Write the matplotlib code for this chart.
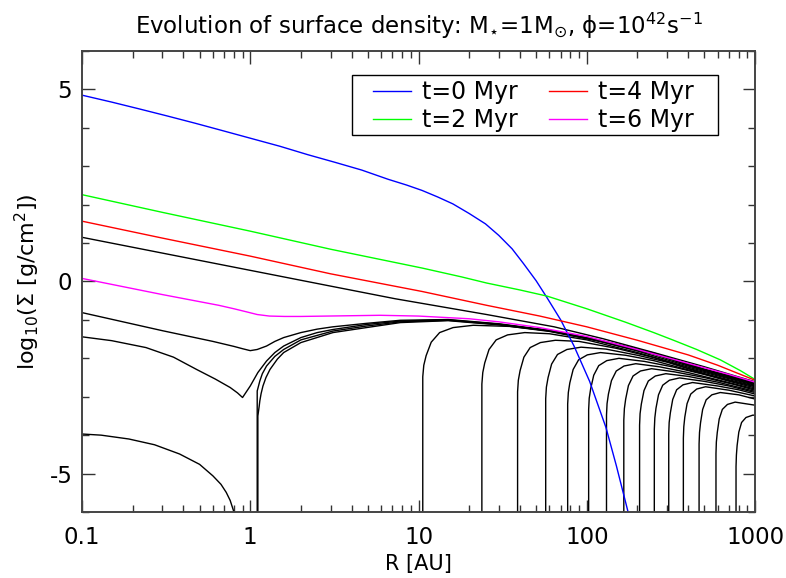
import numpy as np
import matplotlib.pyplot as plt
from matplotlib.patches import Rectangle
from matplotlib.ticker import FixedLocator, FixedFormatter, LogLocator, MultipleLocator

plt.rcParams['axes.unicode_minus'] = False

# coloured snapshots (R in AU, log10 Sigma)
r_t0 = [0.1, 0.15, 0.22, 0.32, 0.47, 0.68, 1, 1.5, 2.2, 3.2, 4.6, 6.6, 8.5, 10.5, 13, 16, 20,
        25, 30, 36, 42, 50, 58, 70, 84, 104, 130, 150, 176, 190]
s_t0 = [4.85, 4.67, 4.49, 4.31, 4.12, 3.93, 3.73, 3.52, 3.3, 3.1, 2.9, 2.66, 2.51, 2.37, 2.2, 2.02, 1.77,
        1.5, 1.2, 0.85, 0.47, 0.02, -0.42, -1.0, -1.68, -2.6, -3.8, -4.8, -6.0, -6.6]

r_t2 = [0.1, 0.3, 1, 3, 10.5, 18, 25.4, 40, 58, 100, 170, 250, 328, 450, 622, 818, 1000]
s_t2 = [2.26, 1.8, 1.31, 0.84, 0.35, 0.12, -0.04, -0.22, -0.38, -0.71, -1.06, -1.33, -1.53, -1.77, -2.04, -2.32, -2.55]

r_t4 = [0.1, 0.3, 1, 3, 10.5, 25.4, 52.6, 100, 200, 400, 600, 800, 1000]
s_t4 = [1.57, 1.13, 0.66, 0.2, -0.26, -0.62, -0.9, -1.18, -1.53, -1.91, -2.18, -2.4, -2.57]

r_t6 = [0.1, 0.3, 0.65, 0.8, 0.95, 1.1, 1.3, 1.6, 2, 5.9, 10, 20, 30, 52.6, 100, 200, 400, 700, 1000]
s_t6 = [0.08, -0.34, -0.62, -0.71, -0.79, -0.86, -0.9, -0.91, -0.91, -0.88, -0.9, -0.97, -1.05, -1.2, -1.43, -1.77, -2.13, -2.42, -2.62]

legend_labels = ['t=0 Myr', 't=2 Myr', 't=4 Myr', 't=6 Myr']

# black snapshots
r_b1 = [0.1, 1, 3, 7.28, 10.5, 25.4, 64, 125, 250, 500, 750, 1000]
s_b1 = [1.15, 0.29, -0.12, -0.45, -0.57, -0.86, -1.18, -1.49, -1.85, -2.22, -2.45, -2.61]

r_b2 = [0.1, 0.3, 0.6, 0.8, 0.9, 1.0, 1.1, 1.25, 1.4, 1.58, 2, 2.5, 3.1, 4.9, 7.8, 15, 30, 60, 120, 250, 500, 1000]
s_b2 = [-0.81, -1.28, -1.56, -1.69, -1.75, -1.8, -1.77, -1.68, -1.56, -1.46, -1.33, -1.24, -1.18, -1.09, -1.01, -0.99, -1.1, -1.27, -1.53, -1.86, -2.28, -2.63]

r_b3 = [0.1, 0.15, 0.24, 0.35, 0.48, 0.62, 0.76, 0.84, 0.9, 1.0, 1.11, 1.25, 1.4, 1.58, 2, 2.5, 3.1, 4.9, 7.8, 15, 30, 60, 120, 250, 500, 1000]
s_b3 = [-1.44, -1.54, -1.72, -1.97, -2.29, -2.54, -2.76, -2.9, -3.02, -2.72, -2.37, -2.07, -1.85, -1.68, -1.46, -1.33, -1.25, -1.12, -1.03, -1.0, -1.11, -1.28, -1.54, -1.87, -2.29, -2.64]

r_b4 = [1.1, 1.1, 1.12, 1.14, 1.18, 1.25, 1.4, 1.58, 2, 3.1, 4.9, 7.8, 15, 30, 60, 120, 250, 500, 1000]
s_b4 = [-6.5, -2.85, -2.72, -2.59, -2.4, -2.2, -1.95, -1.77, -1.52, -1.29, -1.16, -1.05, -1.01, -1.12, -1.29, -1.55, -1.88, -2.3, -2.64]

r_b5 = [0.1, 0.13, 0.19, 0.27, 0.38, 0.5, 0.6, 0.67, 0.72, 0.76, 0.8, 0.83, 1.11, 1.11, 1.13, 1.14, 1.16,
        1.19, 1.24, 1.31, 1.45, 1.58, 2, 3.1, 4.9, 7.8, 15, 30, 60, 120, 250, 500, 1000]
s_b5 = [-3.97, -4.0, -4.1, -4.25, -4.49, -4.76, -5.06, -5.28, -5.49, -5.7, -6.0, -6.5, -6.5, -3.5, -3.25, -3.11, -2.92,
        -2.72, -2.5, -2.29, -2.02, -1.85, -1.59, -1.33, -1.2, -1.07, -1.02, -1.13, -1.3, -1.56, -1.89, -2.31, -2.65]

# snapshots with an inner hole opening outwards
r_h1 = [10.6, 10.6, 10.75, 11.1, 11.9, 13.35, 16.05, 21.15, 35, 60, 100, 200, 400, 700, 1000]
s_h1 = [-6.5, -2.48, -2.18, -1.93, -1.58, -1.33, -1.2, -1.14, -1.17, -1.28, -1.47, -1.81, -2.2, -2.49, -2.66]

r_h2 = [23.8, 23.8, 24.1, 24.75, 26.25, 28.95, 33.85, 42.8, 60, 100, 200, 400, 700, 1000]
s_h2 = [-6.5, -2.67, -2.37, -2.12, -1.77, -1.52, -1.39, -1.33, -1.36, -1.52, -1.85, -2.23, -2.51, -2.68]

r_h3 = [38.8, 38.8, 39.2, 40.15, 42.3, 46.1, 53, 65.1, 90, 150, 250, 400, 700, 1000]
s_h3 = [-6.5, -2.87, -2.57, -2.32, -1.97, -1.72, -1.59, -1.53, -1.56, -1.74, -1.98, -2.26, -2.53, -2.7]

r_h4 = [57, 57, 57.55, 58.9, 61.8, 67, 76.2, 92.5, 130, 200, 300, 500, 700, 1000]
s_h4 = [-6.5, -3.05, -2.75, -2.5, -2.15, -1.9, -1.77, -1.71, -1.76, -1.92, -2.1, -2.4, -2.56, -2.72]

r_h5 = [77, 77, 77.7, 79.3, 83, 89.4, 100.8, 120.7, 170, 250, 400, 700, 1000]
s_h5 = [-6.5, -3.19, -2.89, -2.64, -2.29, -2.04, -1.91, -1.85, -1.92, -2.06, -2.3, -2.58, -2.74]

r_h6 = [102.6, 102.6, 103.4, 105.5, 110, 117.8, 131.5, 155.3, 220, 330, 500, 750, 1000]
s_h6 = [-6.5, -3.34, -3.04, -2.79, -2.44, -2.19, -2.06, -2.0, -2.08, -2.23, -2.42, -2.63, -2.77]

r_h7 = [131, 131, 132, 134.5, 140.2, 149.7, 166.6, 195.6, 270, 400, 600, 1000]
s_h7 = [-6.5, -3.48, -3.18, -2.93, -2.58, -2.33, -2.2, -2.14, -2.22, -2.37, -2.56, -2.8]

r_h8 = [166, 166, 167.3, 170.3, 176.8, 188.4, 208.5, 242.7, 330, 500, 750, 1000]
s_h8 = [-6.5, -3.61, -3.31, -3.06, -2.71, -2.46, -2.33, -2.27, -2.35, -2.5, -2.68, -2.83]

r_h9 = [206, 206, 207.4, 211, 218.8, 232.2, 255.6, 295, 400, 600, 1000]
s_h9 = [-6.5, -3.74, -3.44, -3.19, -2.84, -2.59, -2.46, -2.4, -2.47, -2.62, -2.86]

r_h10 = [252, 252, 253.8, 257.8, 266.9, 282.7, 310, 356, 500, 700, 1000]
s_h10 = [-6.5, -3.85, -3.55, -3.3, -2.95, -2.7, -2.57, -2.51, -2.6, -2.72, -2.89]

r_h11 = [307, 307, 308.8, 313.8, 324.2, 342, 373, 425, 600, 800, 1000]
s_h11 = [-6.5, -3.97, -3.67, -3.42, -3.07, -2.82, -2.69, -2.63, -2.72, -2.82, -2.93]

r_h12 = [375, 375, 377.3, 382.5, 394.5, 415, 450, 508, 700, 1000]
s_h12 = [-6.5, -4.08, -3.78, -3.53, -3.18, -2.93, -2.8, -2.74, -2.83, -2.98]

r_h13 = [465, 465, 467.8, 474.3, 488.3, 512.4, 553.8, 621.7, 800, 1000]
s_h13 = [-6.5, -4.23, -3.93, -3.68, -3.33, -3.08, -2.95, -2.89, -2.95, -3.06]

r_h14 = [586, 586, 589, 596.5, 612.4, 639.3, 685.6, 761.8, 1000]
s_h14 = [-6.5, -4.48, -4.18, -3.93, -3.58, -3.33, -3.2, -3.14, -3.22]

r_h15 = [771, 771, 774.9, 782.6, 801, 831.9, 883.6, 968.4, 1000]
s_h15 = [-6.5, -4.82, -4.52, -4.27, -3.92, -3.67, -3.54, -3.48, -3.48]

black_r = [r_b1, r_b2, r_b3, r_b4, r_b5, r_h1, r_h2, r_h3, r_h4, r_h5, r_h6, r_h7,
           r_h8, r_h9, r_h10, r_h11, r_h12, r_h13, r_h14, r_h15]
black_s = [s_b1, s_b2, s_b3, s_b4, s_b5, s_h1, s_h2, s_h3, s_h4, s_h5, s_h6, s_h7,
           s_h8, s_h9, s_h10, s_h11, s_h12, s_h13, s_h14, s_h15]

xticks = [0.1, 1, 10, 100, 1000]
xticklabels = ['0.1', '1', '10', '100', '1000']
yticks = [-5, 0, 5]

fig = plt.figure(figsize=(7.86, 5.78), dpi=100)
ax = fig.add_axes([0.1043, 0.1142, 0.8563, 0.7976])

for r, s in zip(black_r, black_s):
    ax.plot(r, s, color='black', lw=1.0)

l0, = ax.plot(r_t0, s_t0, color='#0000ff', lw=1.0)
l2, = ax.plot(r_t2, s_t2, color='#00ff00', lw=1.0)
l4, = ax.plot(r_t4, s_t4, color='#ff0000', lw=1.0)
l6, = ax.plot(r_t6, s_t6, color='#ff00ff', lw=1.0)

ax.set_xscale('log')
ax.set_xlim(0.1, 1000)
ax.set_ylim(-6, 6)

ax.xaxis.set_major_locator(FixedLocator(xticks))
ax.xaxis.set_major_formatter(FixedFormatter(xticklabels))
ax.xaxis.set_minor_locator(LogLocator(base=10, subs=np.arange(2, 10)))
ax.yaxis.set_major_locator(FixedLocator(yticks))
ax.yaxis.set_minor_locator(MultipleLocator(1))

ax.tick_params(which='both', direction='in', top=True, right=True,
               labelsize=16.5, color='#333333', width=1.0)
ax.tick_params(axis='x', pad=10)
ax.tick_params(axis='y', pad=7)
ax.tick_params(which='major', length=9)
ax.tick_params(which='minor', length=5)
for sp in ax.spines.values():
    sp.set_color('#444444')
    sp.set_linewidth(1.4)

ax.set_xlabel('R [AU]', fontsize=15, labelpad=4)
ax.set_ylabel('log$_{10}$(Σ [g/cm$^2$])', fontsize=16, labelpad=5)
ax.set_title(r'Evolution of surface density: M$_{\star}$=1M$_{\odot}$, ϕ=10$^{42}$s$^{-1}$',
             fontsize=16.5, pad=12)

# legend box (wide horizontal padding, as in the original)
ax.add_patch(Rectangle((0.401, 0.818), 0.544, 0.130, transform=ax.transAxes,
                       facecolor='white', edgecolor='black', lw=1.0, zorder=4))
leg = ax.legend([l0, l2, l4, l6], legend_labels, ncol=2, loc='upper left',
                bbox_to_anchor=(0.432, 0.936), fontsize=17, frameon=False,
                handlelength=1.6, columnspacing=1.3, borderpad=0,
                labelspacing=0.15, handletextpad=0.5, borderaxespad=0)
leg.set_zorder(5)

fig.savefig('out.png', dpi=100)
